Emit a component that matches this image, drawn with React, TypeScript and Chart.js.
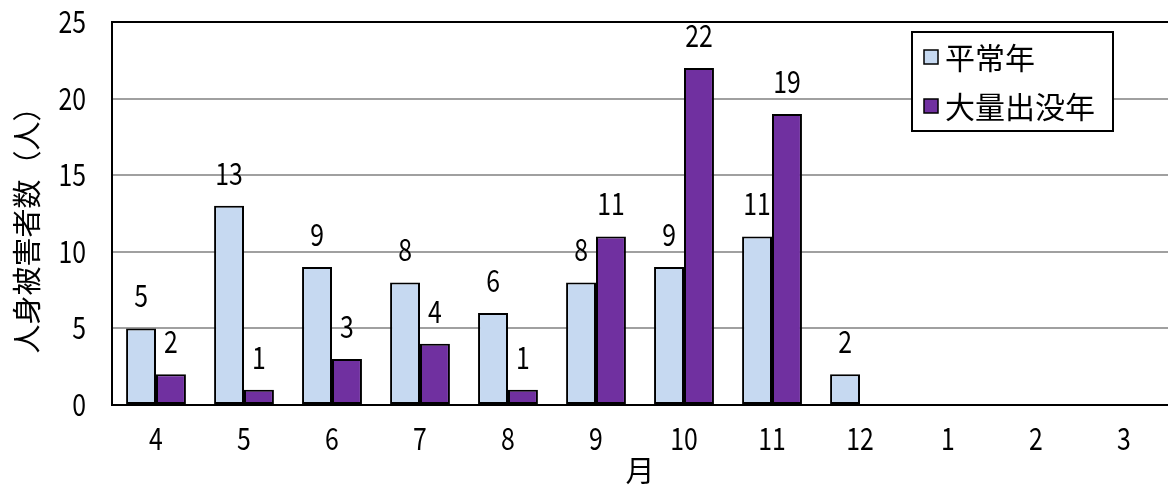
import React, { useEffect, useRef } from "react";
import { Chart, registerables } from "chart.js";

Chart.register(...registerables);

const months = ["4", "5", "6", "7", "8", "9", "10", "11", "12", "1", "2", "3"];
const normalYear = [5, 13, 9, 8, 6, 8, 9, 11, 2, null, null, null];
const massYear = [2, 1, 3, 4, 1, 11, 22, 19, null, null, null, null];
const seriesNames = ["平常年", "大量出没年"];
const yTicks = [0, 5, 10, 15, 20, 25];
const yTitle = "人身被害者数（人）";
const xTitle = "月";

const FONT = "'Noto Sans CJK JP', 'Noto Sans', sans-serif";
const COLORS = ["#C6D9F1", "#7030A0"];
const NUM_SIZE = 31;
const NUM_SX = 0.8;

function drawNum(ctx: CanvasRenderingContext2D, text: string, x: number, baseline: number, align: CanvasTextAlign) {
  ctx.save();
  ctx.font = `${NUM_SIZE}px ${FONT}`;
  ctx.fillStyle = "#000";
  ctx.textAlign = align;
  ctx.textBaseline = "alphabetic";
  ctx.translate(x, baseline);
  ctx.scale(NUM_SX, 1);
  ctx.fillText(text, 0, 0);
  ctx.restore();
}

const textLayer = {
  id: "textLayer",
  afterDraw(chart: any) {
    const ctx = chart.ctx;
    const a = chart.chartArea;
    const xs = chart.scales.x;
    const ys = chart.scales.y;
    const digitMid = NUM_SIZE * 0.357;

    // top frame line
    ctx.save();
    ctx.strokeStyle = "#000";
    ctx.lineWidth = 2;
    ctx.beginPath();
    ctx.moveTo(a.left, a.top);
    ctx.lineTo(a.right, a.top);
    ctx.stroke();
    ctx.restore();

    // y tick labels
    yTicks.forEach((v) => {
      drawNum(ctx, String(v), 86, ys.getPixelForValue(v) + digitMid, "right");
    });
    // x tick labels
    months.forEach((m, i) => {
      drawNum(ctx, m, xs.getPixelForValue(i), 438.5 + digitMid, "center");
    });
    // value labels
    chart.data.datasets.forEach((ds: any, i: number) => {
      const meta = chart.getDatasetMeta(i);
      meta.data.forEach((bar: any, j: number) => {
        const v = ds.data[j];
        if (v === null || v === undefined) return;
        drawNum(ctx, String(v), bar.x, bar.y - 21, "center");
      });
    });

    // axis titles
    ctx.save();
    ctx.fillStyle = "#000";
    ctx.font = `29px ${FONT}`;
    ctx.textAlign = "center";
    ctx.textBaseline = "middle";
    ctx.fillText(xTitle, (a.left + a.right) / 2, 471);
    ctx.translate(27, 223);
    ctx.rotate(-Math.PI / 2);
    ctx.fillText(yTitle, 0, 0);
    ctx.restore();

    // legend
    ctx.save();
    const lx = 912, ly = 32, lw = 201, lh = 99;
    ctx.fillStyle = "#fff";
    ctx.fillRect(lx, ly, lw, lh);
    ctx.strokeStyle = "#000";
    ctx.lineWidth = 2;
    ctx.strokeRect(lx, ly, lw, lh);
    const rows = [57, 106];
    ctx.font = `30px ${FONT}`;
    ctx.textBaseline = "middle";
    ctx.textAlign = "left";
    seriesNames.forEach((name, i) => {
      const cy = rows[i];
      ctx.fillStyle = COLORS[i];
      ctx.fillRect(924, cy - 7, 14, 14);
      ctx.lineWidth = 1.5;
      ctx.strokeStyle = "#000";
      ctx.strokeRect(924, cy - 7, 14, 14);
      ctx.fillStyle = "#000";
      ctx.fillText(name, 945, cy + 1);
    });
    ctx.restore();
  },
};

export default function App() {
  const ref = useRef<HTMLCanvasElement | null>(null);
  useEffect(() => {
    if (!ref.current) return;
    const chart = new Chart(ref.current, {
      type: "bar",
      data: {
        labels: months,
        datasets: [
          {
            label: seriesNames[0],
            data: normalYear,
            backgroundColor: COLORS[0],
            borderColor: "#000",
            borderWidth: 2,
            borderSkipped: false,
          },
          {
            label: seriesNames[1],
            data: massYear,
            backgroundColor: COLORS[1],
            borderColor: "#000",
            borderWidth: 2,
            borderSkipped: false,
          },
        ],
      },
      options: {
        responsive: false,
        animation: false,
        devicePixelRatio: 1,
        layout: { padding: { top: 22, right: 0, left: 0, bottom: 0 } },
        datasets: { bar: { barPercentage: 1, categoryPercentage: 0.68 } },
        plugins: { legend: { display: false }, tooltip: { enabled: false } },
        scales: {
          x: {
            grid: { display: false, drawTicks: false },
            border: { color: "#000", width: 2 },
            ticks: { display: false },
            afterFit(scale: any) {
              scale.height = 88;
            },
          },
          y: {
            min: 0,
            max: 25,
            afterBuildTicks(scale: any) {
              scale.ticks = yTicks.map((v) => ({ value: v }));
            },
            grid: { color: "#a0a0a0", lineWidth: 2, drawTicks: false },
            border: { color: "#000", width: 2 },
            ticks: { display: false },
            afterFit(scale: any) {
              scale.width = 112;
            },
          },
        },
      },
      plugins: [textLayer],
    } as any);
    return () => chart.destroy();
  }, []);
  return (
    <div style={{ position: "absolute", left: 0, top: 0, width: 1168, height: 493, background: "#fff" }}>
      <canvas ref={ref} width={1168} height={493} style={{ width: 1168, height: 493, display: "block" }} />
    </div>
  );
}
